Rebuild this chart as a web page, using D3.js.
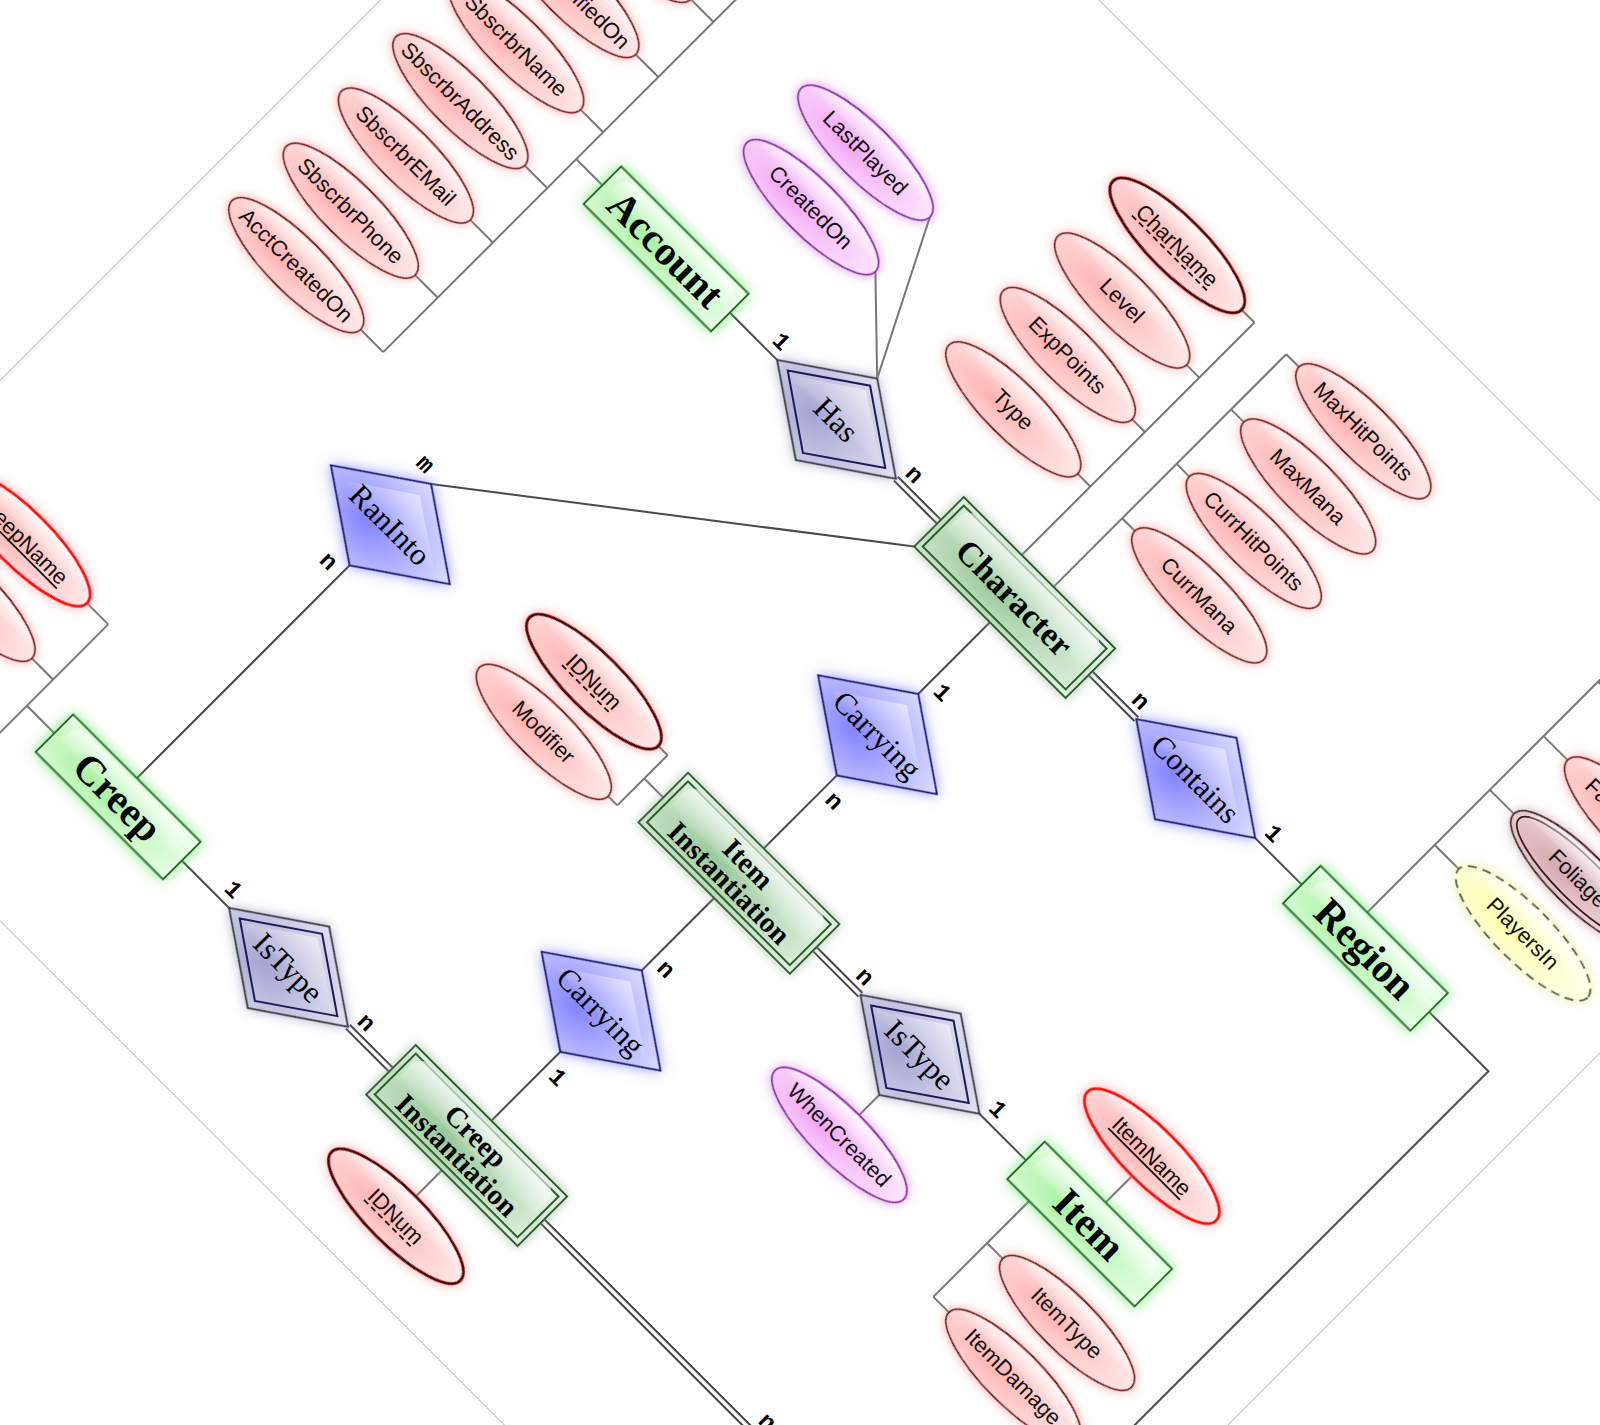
<!DOCTYPE html>
<html>
<head>
<meta charset="utf-8">
<script src="https://cdn.jsdelivr.net/npm/d3@7"></script>
<style>
  body { margin: 0; background: #fff; }
</style>
</head>
<body>
<script>
// ---- what the diagram says ----
var entityNames = ["Account", "Character", "Region", "Item Instantiation", "Item", "Creep", "Creep Instantiation"];
var weakEntities = ["Character", "Item Instantiation", "Creep Instantiation"];
var relationIds = ["Has", "Contains", "Carrying1", "RanInto", "IsType1", "Carrying2", "IsType2"];
var relationNames = ["Has", "Contains", "Carrying", "RanInto", "IsType", "Carrying", "IsType"];
var identifyingRels = ["Has", "IsType1", "IsType2"];

var accountAttrs = ["AcctCreatedOn", "SbscrbrPhone", "SbscrbrEMail", "SbscrbrAddress", "SbscrbrName", "AcctModifiedOn", ""];
var hasAttrs = ["CreatedOn", "LastPlayed"];
var charLeftAttrs = ["Type", "ExpPoints", "Level", "CharName"];
var charRightAttrs = ["CurrMana", "CurrHitPoints", "MaxMana", "MaxHitPoints"];
var regionAttrs = ["PlayersIn", "Foliage", "FaunaTypes", ""];
var itemInstAttrs = ["IDNum", "Modifier"];
var itemAttrs = ["ItemType", "ItemDamage"];
var creepAttrs = ["CreepName", ""];
var itemKeyAttrs = ["ItemName"];
var creepInstAttrs = ["IDNum"];
var isTypeAttrs = ["WhenCreated"];

var keyAttrs = ["CreepName", "ItemName"];
var partialKeyAttrs = ["CharName", "IDNum"];
var relAttrs = ["CreatedOn", "LastPlayed", "WhenCreated"];
var multiAttrs = ["Foliage"];
var derivedAttrs = ["PlayersIn"];

// [from, to, cardinality label]
var links = [
  ["Account", "Has", "1"],
  ["Has", "Character", "n"],
  ["Character", "Contains", "n"],
  ["Contains", "Region", "1"],
  ["Character", "Carrying1", "1"],
  ["Carrying1", "Item Instantiation", "n"],
  ["Item Instantiation", "Carrying2", "n"],
  ["Carrying2", "Creep Instantiation", "1"],
  ["Creep", "IsType2", "1"],
  ["IsType2", "Creep Instantiation", "n"],
  ["Item Instantiation", "IsType1", "n"],
  ["IsType1", "Item", "1"],
  ["Creep", "RanInto", "n"],
  ["RanInto", "Character", "m"]
];
var totalLinks = ["Has|Character", "Character|Contains", "IsType2|Creep Instantiation", "Item Instantiation|IsType1"];

// ---- layout (diagram frame, turned 45 degrees on the page) ----
var colU = [647, 888, 1140, 1396, 1636];
var rowV = [-295, -101, 95, 290, 480];
var entityCell = [[0, 0], [2, 0], [4, 0], [2, 2], [4, 2], [0, 4], [2, 4]];
var relationCell = [[1, 0], [3, 0], [2, 1], [0, 2], [3, 2], [2, 3], [1, 4]];

var col = d3.scaleOrdinal().domain(d3.range(colU.length)).range(colU);
var row = d3.scaleOrdinal().domain(d3.range(rowV.length)).range(rowV);

var RX = 91, RY = 28;

var svgWidth = 1600, svgHeight = 1425;
var svg = d3.select("body").append("svg")
  .attr("width", svgWidth)
  .attr("height", svgHeight);
svg.append("rect").attr("width", svgWidth).attr("height", svgHeight).attr("fill", "#fff");

var defs = svg.append("defs");

function radial(id, c0, c1) {
  var gr = defs.append("radialGradient").attr("id", id)
    .attr("cx", "38%").attr("cy", "62%").attr("r", "70%");
  gr.append("stop").attr("offset", "0%").attr("stop-color", c0);
  gr.append("stop").attr("offset", "100%").attr("stop-color", c1);
}
function glow(id, color, sd) {
  var f = defs.append("filter").attr("id", id)
    .attr("x", "-40%").attr("y", "-80%").attr("width", "180%").attr("height", "260%");
  f.append("feDropShadow").attr("dx", 0).attr("dy", 0)
    .attr("stdDeviation", sd).attr("flood-color", color).attr("flood-opacity", 0.7);
}
radial("gEnt", "#a6f0a0", "#e9ffe7");
radial("gWeak", "#98c898", "#e0f0e0");
radial("gRel", "#8484ff", "#e6e6ff");
radial("gIdent", "#a4a4d2", "#eaeaf4");
radial("gAttr", "#ffb2b2", "#ffecec");
radial("gRelAttr", "#f2a6f6", "#fdeafd");
radial("gMulti", "#d6a6ae", "#f4e6e8");
radial("gDerived", "#ffffae", "#ffffee");
glow("fEnt", "#4ee04e", 7);
glow("fWeak", "#8fb08f", 6);
glow("fRel", "#6a6aff", 7);
glow("fIdent", "#9090b8", 6);
glow("fAttr", "#ff8a8a", 6);
glow("fRelAttr", "#d070e0", 6);
glow("fMulti", "#c09098", 6);
glow("fDerived", "#e6e67a", 6);

var gl = defs.append("linearGradient").attr("id", "gloss")
  .attr("x1", 0).attr("y1", 0).attr("x2", 0).attr("y2", 1);
gl.append("stop").attr("offset", "0%").attr("stop-color", "#fff").attr("stop-opacity", 0.85);
gl.append("stop").attr("offset", "48%").attr("stop-color", "#fff").attr("stop-opacity", 0.2);
gl.append("stop").attr("offset", "55%").attr("stop-color", "#fff").attr("stop-opacity", 0);

var g = svg.append("g").attr("transform", "rotate(45)");
var borderLayer = g.append("g");
var lineLayer = g.append("g");
var shapeLayer = g.append("g");
var labelLayer = g.append("g");

// page frame of the original drawing
borderLayer.append("rect")
  .attr("x", 269).attr("y", -777).attr("width", 1607).attr("height", 1428)
  .attr("fill", "none").attr("stroke", "#c4c4c4").attr("stroke-width", 1);

var line = d3.line().x(function(p) { return p[0]; }).y(function(p) { return p[1]; });

function seg(pts, color, width) {
  lineLayer.append("path").attr("d", line(pts)).attr("fill", "none")
    .attr("stroke", color || "#4a4a4a").attr("stroke-width", width || 2);
}
function doubleSeg(pts) {
  lineLayer.append("path").attr("d", line(pts)).attr("fill", "none")
    .attr("stroke", "#444").attr("stroke-width", 7.5);
  lineLayer.append("path").attr("d", line(pts)).attr("fill", "none")
    .attr("stroke", "#fff").attr("stroke-width", 3.5);
}

// ---- nodes ----
var nodes = {};
entityNames.forEach(function(name, i) {
  var weak = weakEntities.indexOf(name) >= 0;
  nodes[name] = { u: col(entityCell[i][0]), v: row(entityCell[i][1]),
    w: weak ? 214 : 180, h: weak ? 70 : 53, kind: "ent", weak: weak, label: name };
});
relationIds.forEach(function(id, i) {
  nodes[id] = { u: col(relationCell[i][0]), v: row(relationCell[i][1]),
    w: 168, h: 115, kind: "rel", ident: identifyingRels.indexOf(id) >= 0, label: relationNames[i] };
});

function attach(n, o) {
  var du = o.u - n.u, dv = o.v - n.v;
  if (Math.abs(dv) < 20) return [n.u + Math.sign(du) * n.w / 2, n.v];
  if (Math.abs(du) < 20) return [n.u, n.v + Math.sign(dv) * n.h / 2];
  if (n.kind === "rel") return [n.u, n.v + Math.sign(dv) * n.h / 2];
  return [n.u + Math.sign(du) * n.w / 2, n.v + Math.sign(dv) * n.h / 2];
}

function cardLabel(u, v, txt) {
  labelLayer.append("text").attr("x", u).attr("y", v)
    .attr("text-anchor", "middle").attr("dy", "0.35em")
    .attr("font-family", "Liberation Mono, Courier New, monospace")
    .attr("font-weight", "bold").attr("font-size", 24).text(txt);
}

links.forEach(function(l) {
  var a = nodes[l[0]], b = nodes[l[1]];
  var pa = attach(a, b), pb = attach(b, a);
  if (totalLinks.indexOf(l[0] + "|" + l[1]) >= 0) doubleSeg([pa, pb]);
  else seg([pa, pb]);
  // label sits next to the diamond corner
  var r = a.kind === "rel" ? a : b;
  var c = a.kind === "rel" ? pa : pb;
  var other = a.kind === "rel" ? b : a;
  var du = other.u - r.u, dv = other.v - r.v;
  if (Math.abs(dv) < 20) cardLabel(c[0] + Math.sign(du) * 10, c[1] - 17, l[2]);
  else if (r.label === "RanInto") cardLabel(c[0] - 18, c[1] + Math.sign(dv) * 11, l[2]);
  else cardLabel(c[0] + 16, c[1] + Math.sign(dv) * 19, l[2]);
});

// links that run off the page
var ci = nodes["Creep Instantiation"];
doubleSeg([[ci.u + ci.w / 2, ci.v], [1640, ci.v]]);
cardLabel(1548, ci.v - 18, "n");
var rg = nodes["Region"];
seg([[rg.u + rg.w / 2, rg.v], [1810, rg.v], [1810, 760]]);

// ---- attributes ----
function attrKind(name) {
  if (keyAttrs.indexOf(name) >= 0) return "key";
  if (partialKeyAttrs.indexOf(name) >= 0) return "partial";
  if (relAttrs.indexOf(name) >= 0) return "rel";
  if (multiAttrs.indexOf(name) >= 0) return "multi";
  if (derivedAttrs.indexOf(name) >= 0) return "derived";
  return "plain";
}
var attrStyle = {
  plain:   { fill: "gAttr", stroke: "#7a1414", sw: 1.8, f: "fAttr" },
  key:     { fill: "gAttr", stroke: "#ff1010", sw: 3, f: "fAttr" },
  partial: { fill: "gAttr", stroke: "#5e0000", sw: 3.2, f: "fAttr" },
  rel:     { fill: "gRelAttr", stroke: "#8a2aa8", sw: 1.8, f: "fRelAttr" },
  multi:   { fill: "gMulti", stroke: "#3a1c1c", sw: 1.8, f: "fMulti" },
  derived: { fill: "gDerived", stroke: "#56684a", sw: 2, f: "fDerived", dash: "9,6" }
};

function drawAttr(name, u, v) {
  var kind = attrKind(name);
  var st = attrStyle[kind];
  var a = shapeLayer.append("g").attr("transform", "translate(" + u + "," + v + ")");
  a.append("ellipse").attr("rx", RX).attr("ry", RY)
    .attr("fill", "url(#" + st.fill + ")").attr("stroke", st.stroke)
    .attr("stroke-width", st.sw).attr("stroke-dasharray", st.dash || null)
    .attr("filter", "url(#" + st.f + ")");
  if (kind === "multi") {
    a.append("ellipse").attr("rx", RX - 7).attr("ry", RY - 6)
      .attr("fill", "none").attr("stroke", st.stroke).attr("stroke-width", 1.8);
  }
  a.append("ellipse").attr("cy", -RY * 0.3).attr("rx", RX * 0.86).attr("ry", RY * 0.62)
    .attr("fill", "url(#gloss)").attr("opacity", 0.8);
  if (!name) return;
  var t = a.append("text").attr("text-anchor", "middle").attr("dy", "0.35em")
    .attr("font-family", "Liberation Sans, Arial, sans-serif").attr("font-size", 22)
    .attr("fill", "#111").text(name);
  if (kind === "key" || kind === "partial") {
    var w = t.node().getComputedTextLength();
    a.append("line").attr("x1", -w / 2).attr("x2", w / 2).attr("y1", 11).attr("y2", 11)
      .attr("stroke", "#111").attr("stroke-width", 1.8)
      .attr("stroke-dasharray", kind === "partial" ? "6,4" : null);
  }
}

// comb-style groups: a spine with a tick to each ellipse
var combs = [
  { owner: "Account", names: accountAttrs, spineU: 520, attrU: 397, vs: [-22, -99, -177, -254, -333, -411, -489], reach: -640 },
  { owner: "Character", names: charLeftAttrs, spineU: 1115, attrU: 1006, vs: [-427, -504, -581, -659] },
  { owner: "Character", names: charRightAttrs, spineU: 1160, attrU: 1269, vs: [-427, -504, -581, -659] },
  { owner: "Region", names: regionAttrs, spineU: 1612, attrU: 1737, vs: [-417, -495, -571, -648], reach: -760 },
  { owner: "Item Instantiation", names: itemInstAttrs, spineU: 1006, attrU: 902, vs: [62, 133] },
  { owner: "Creep", names: creepAttrs, spineU: 518, attrU: 397, vs: [365, 443], reach: 620 },
  { owner: "Item", names: itemAttrs, spineU: 1577, attrU: 1690, vs: [181, 257] }
];

combs.forEach(function(c) {
  var o = nodes[c.owner];
  var ends = c.vs.slice();
  if (c.reach !== undefined) ends.push(c.reach);
  if (c.spineU > o.u - o.w / 2 && c.spineU < o.u + o.w / 2) {
    var edge = d3.mean(c.vs) < o.v ? o.v - o.h / 2 : o.v + o.h / 2;
    ends.push(edge);
  } else {
    var side = c.spineU < o.u ? -1 : 1;
    seg([[o.u + side * o.w / 2, o.v], [c.spineU, o.v]], "#777");
    ends.push(o.v);
  }
  seg([[c.spineU, d3.min(ends)], [c.spineU, d3.max(ends)]], "#777");
  var dir = c.attrU < c.spineU ? 1 : -1;
  c.names.forEach(function(name, i) {
    seg([[c.attrU + dir * RX, c.vs[i]], [c.spineU, c.vs[i]]], "#777");
    drawAttr(name, c.attrU, c.vs[i]);
  });
});

// attributes hung straight off one node
var singles = [
  { owner: "Item", name: itemKeyAttrs[0], u: 1632, v: 3 },
  { owner: "Creep Instantiation", name: creepInstAttrs[0], u: 1140, v: 580 },
  { owner: "IsType1", name: isTypeAttrs[0], u: 1396, v: 209 }
];
singles.forEach(function(s) {
  var o = nodes[s.owner];
  var up = s.v < o.v;
  var y0 = o.v + (up ? -1 : 1) * o.h / 2;
  seg([[s.u, y0], [s.u, s.v + (up ? RY : -RY)]], "#777");
  drawAttr(s.name, s.u, s.v);
});

// relationship attributes fanned from the top corner of Has
var hasNode = nodes["Has"];
[-427, -504].forEach(function(v, i) {
  seg([[hasNode.u, hasNode.v - hasNode.h / 2], [720 + RX, v]], "#777");
  drawAttr(hasAttrs[i], 720, v);
});

// ---- entity boxes and relationship diamonds ----
Object.keys(nodes).forEach(function(id) {
  var n = nodes[id];
  var grp = shapeLayer.append("g").attr("transform", "translate(" + n.u + "," + n.v + ")");
  if (n.kind === "ent") {
    grp.append("rect").attr("x", -n.w / 2).attr("y", -n.h / 2).attr("width", n.w).attr("height", n.h)
      .attr("fill", n.weak ? "url(#gWeak)" : "url(#gEnt)")
      .attr("stroke", n.weak ? "#2a602a" : "#246e24").attr("stroke-width", 2)
      .attr("filter", n.weak ? "url(#fWeak)" : "url(#fEnt)");
    if (n.weak) {
      grp.append("rect").attr("x", -n.w / 2 + 6).attr("y", -n.h / 2 + 6)
        .attr("width", n.w - 12).attr("height", n.h - 12)
        .attr("fill", "none").attr("stroke", "#2a602a").attr("stroke-width", 2);
    }
    grp.append("rect").attr("x", -n.w / 2 + 10).attr("y", -n.h / 2 + 4)
      .attr("width", n.w - 20).attr("height", n.h - 8).attr("rx", 14)
      .attr("fill", "url(#gloss)").attr("opacity", 0.75);
    var parts = n.label.split(" ");
    var size = !n.weak ? 41 : (parts.length > 1 ? 29 : 34);
    parts.forEach(function(p, i) {
      grp.append("text").attr("text-anchor", "middle")
        .attr("y", (i - (parts.length - 1) / 2) * 27).attr("dy", "0.35em")
        .attr("font-family", "Liberation Serif, Times New Roman, serif")
        .attr("font-weight", "bold").attr("font-size", size).attr("fill", "#000").text(p);
    });
  } else {
    var hw = n.w / 2, hh = n.h / 2;
    var diamond = function(a, b) { return [[-a, 0], [0, -b], [a, 0], [0, b]]; };
    grp.append("path").attr("d", line(diamond(hw, hh)) + "Z")
      .attr("fill", n.ident ? "url(#gIdent)" : "url(#gRel)")
      .attr("stroke", n.ident ? "#3c3c4c" : "#1a1a72").attr("stroke-width", 2)
      .attr("filter", n.ident ? "url(#fIdent)" : "url(#fRel)");
    if (n.ident) {
      grp.append("path").attr("d", line(diamond(hw - 15, hh - 10)) + "Z")
        .attr("fill", "none").attr("stroke", "#1c1c5c").attr("stroke-width", 2);
    }
    grp.append("path").attr("d", line(diamond(hw - 22, hh - 16)) + "Z")
      .attr("fill", "url(#gloss)").attr("opacity", 0.6);
    grp.append("text").attr("text-anchor", "middle").attr("dy", "0.35em")
      .attr("font-family", "Liberation Serif, Times New Roman, serif")
      .attr("font-size", 31).attr("fill", "#000").text(n.label);
  }
});
</script>
</body>
</html>
